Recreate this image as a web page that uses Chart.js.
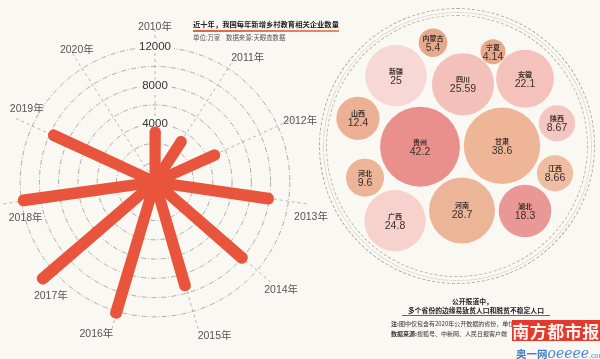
<!DOCTYPE html>
<html><head><meta charset="utf-8">
<script src="https://cdn.jsdelivr.net/npm/chart.js@4.4.1/dist/chart.umd.min.js"></script>
<style>
html,body{margin:0;padding:0;}
body{width:600px;height:359px;overflow:hidden;position:relative;background:#F9F8F3;font-family:"Noto Sans CJK SC","Noto Sans",sans-serif;}
#radial{position:absolute;left:-11px;top:7px;}
#bubbles{position:absolute;left:300px;top:0;}
.ring{position:absolute;border-radius:50%;box-sizing:border-box;}
.t{position:absolute;white-space:nowrap;line-height:1;}
</style></head><body>
<div class="ring" style="left:326px;top:15px;width:262px;height:262px;border:1px dashed #b9b3ae;"></div>
<div class="ring" style="left:322.5px;top:11.5px;width:269px;height:269px;border:1px dotted #c2bcb7;"></div>
<div class="ring" style="left:319px;top:8px;width:276px;height:276px;border:1px dashed #aaa39e;"></div>
<canvas id="radial" width="346" height="346"></canvas>
<canvas id="bubbles" width="300" height="359"></canvas>

<div class="t" style="left:193px;top:21px;font-size:7.3px;font-weight:bold;color:#222;">近十年，我国每年新增乡村教育相关企业数量</div>
<div style="position:absolute;left:193px;top:30px;width:146px;height:1.5px;background:linear-gradient(90deg,#e4603f,#e98b6c);"></div>
<div class="t" style="left:193px;top:34.5px;font-size:6.4px;color:#555;">单位:万家&nbsp;&nbsp;&nbsp;&nbsp;数据来源:天眼查数据</div>

<div class="t" style="left:452px;top:298px;font-size:6.8px;font-weight:bold;color:#222;">公开报道中，</div>
<div class="t" style="left:408px;top:307px;font-size:6.8px;font-weight:bold;color:#222;">多个省份的边缘易致贫人口和脱贫不稳定人口</div>
<div style="position:absolute;left:402px;top:315px;width:148px;height:1px;background:#b8483e;"></div>
<div class="t" style="left:391px;top:320.5px;font-size:6px;color:#333;"><b>注:</b>图中仅包含有2020年公开数据的省份，单位:万人</div>
<div class="t" style="left:391px;top:330.5px;font-size:6px;color:#333;"><b>数据来源:</b>搜狐号、中新网、人民日报客户端</div>
<div class="t" style="left:512px;top:320px;width:88px;height:21px;background:#e43a2d;color:#fff3f0;font-size:17px;font-weight:bold;line-height:21px;text-align:center;letter-spacing:0.5px;">南方都市报</div>
<div class="t" style="left:516px;top:343px;color:#3f7fcf;"><span style="font-size:10.5px;font-weight:bold;">奥一网</span><span style="font-family:'DejaVu Serif',serif;font-style:italic;font-size:14px;color:#4b8bd6;">oeeee</span><span style="font-size:7px;color:#4b8bd6;">.com</span></div>

<script>
// ---- radial bar data ----
const years = ['2010年','2011年','2012年','2013年','2014年','2015年','2016年','2017年','2018年','2019年','2020年'];
const counts = [3200, 3000, 4800, 9900, 10000, 9200, 12200, 13400, 11800, 9600, null];
const radialTickLabels = [4000, 8000, 12000];

// ---- bubble data ----
const provinces = ['内蒙古','宁夏','新疆','四川','安徽','山西','陕西','贵州','甘肃','江西','河北','广西','河南','湖北'];
const provinceValues = [5.4, 4.14, 25, 25.59, 22.1, 12.4, 8.67, 42.2, 38.6, 8.66, 9.6, 24.8, 28.7, 18.3];
// layout of the packed bubbles (offsets from cluster centre)
const bubbleX = [-27, 33, -64, 3, 65, -102, 97, -40, 42, 95, -95, -65, 2, 65];
const bubbleY = [107.3, 98.3, 74.3, 65.7, 71.3, 31.7, 26.7, 3.3, 4.3, -23.3, -27.7, -70.7, -60.5, -61];
const bubbleColors = ['#E7A98C','#E8A88B','#F7D8D6','#F4C1BA','#F4C2BB','#ECB195','#F4C6C1','#E9908D','#EEB597','#EFBEA2','#EDB598','#F7D2CC','#EDB597','#EA9896'];

const BG = '#F9F8F3';
const BAR = '#E8553C';
const FONT = '"Liberation Sans", Arial, "Noto Sans CJK SC", sans-serif';

const labels = [], rdata = [];
years.forEach((y, i) => { labels.push(y); rdata.push(counts[i]); labels.push(''); rdata.push(null); });
const STEP = 360 / years.length, BAR_ANGLE = 0.4;
// per-label placement tweaks (padding along the spoke, line height for vertical offset)
const labelPad = [-10.8, -18.8, -18.8, -19.35, -15.3, -8.5, -12, -44.4, -46.3, -37.5, -46.6];
const labelLH  = [1.2, 1.07, 0.36, 2.97, 2.5, 1.73, 1.9, 7.3, 3.8, 4.17, 6.95];

new Chart(document.getElementById('radial'), {
  type: 'polarArea',
  data: { labels: labels, datasets: [{
    data: rdata,
    angle: c => (c.dataIndex % 2 ? STEP - BAR_ANGLE : BAR_ANGLE),
    backgroundColor: c => (c.dataIndex % 2 ? 'rgba(0,0,0,0)' : BAR),
    borderColor: BAR,
    borderWidth: c => (c.dataIndex % 2 ? 0 : 11),
    borderJoinStyle: 'round',
    clip: false
  }]},
  options: {
    responsive: false, animation: false, events: [],
    layout: { padding: 0, autoPadding: false },
    plugins: { legend: { display: false }, tooltip: { enabled: false } },
    scales: { r: {
      min: -2000, max: 14000, startAngle: 0,
      ticks: {
        stepSize: 2000, color: '#333', font: { size: 11.5, family: FONT },
        backdropColor: BG, backdropPadding: { x: 3, y: 0 },
        showLabelBackdrop: c => radialTickLabels.includes(c.tick.value),
        callback: v => (radialTickLabels.includes(v) ? String(v) : '')
      },
      grid: { circular: true, lineWidth: 0.8,
        color: c => (c.tick && c.tick.value > 12000 ? 'rgba(0,0,0,0)' : '#9a9a9a') },
      border: { dash: [5, 2, 1, 2] },
      angleLines: { display: true, lineWidth: 0.8, borderDash: [3, 3],
        color: c => (c.index % 2 ? 'rgba(0,0,0,0)' : '#a5a5a5') },
      pointLabels: { display: true, centerPointLabels: false, color: '#555',
        font: c => ({ size: 10.5, family: FONT, lineHeight: c.index % 2 ? 1.2 : labelLH[c.index / 2] }),
        padding: c => (c.index % 2 ? -100 : labelPad[c.index / 2]) }
    }}
  }
});

const bubbleText = {
  id: 'bubbleText',
  afterDatasetsDraw(chart) {
    const ctx = chart.ctx;
    const meta = chart.getDatasetMeta(0);
    ctx.save();
    ctx.textAlign = 'center';
    ctx.textBaseline = 'middle';
    ctx.fillStyle = '#3a2f2f';
    meta.data.forEach((el, i) => {
      ctx.font = 'bold 7px "Noto Sans CJK SC", sans-serif';
      ctx.fillText(provinces[i], el.x, el.y - 4.7);
      ctx.font = '10.5px ' + FONT;
      ctx.fillText(String(provinceValues[i]), el.x, el.y + 5);
    });
    ctx.restore();
  }
};

new Chart(document.getElementById('bubbles'), {
  type: 'bubble',
  data: { datasets: [{
    data: provinces.map((p, i) => ({ x: bubbleX[i], y: bubbleY[i], r: 6.15 * Math.sqrt(provinceValues[i]) })),
    backgroundColor: bubbleColors, borderWidth: 0, hoverRadius: 0
  }]},
  options: {
    responsive: false, animation: false, events: [],
    layout: { padding: 0, autoPadding: false },
    plugins: { legend: { display: false }, tooltip: { enabled: false } },
    scales: { x: { display: false, min: -160, max: 140 }, y: { display: false, min: -209, max: 150 } }
  },
  plugins: [bubbleText]
});
</script>
</body></html>
